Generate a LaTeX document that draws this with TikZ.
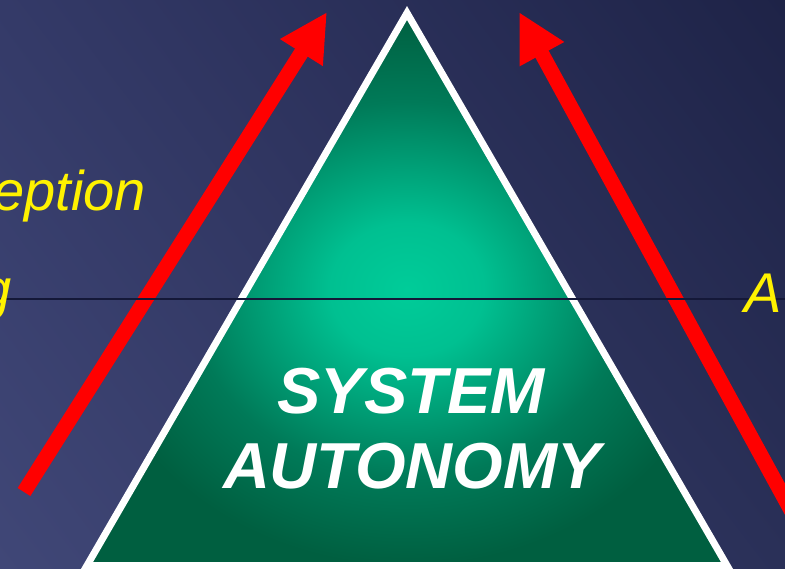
\documentclass[tikz,border=0pt]{standalone}
\usepackage{fontspec}
\setmainfont{Liberation Sans}
\usetikzlibrary{arrows.meta,shadings}
\definecolor{bgUL}{HTML}{343A68}
\definecolor{bgUR}{HTML}{1E2347}
\definecolor{bgLL}{HTML}{404777}
\definecolor{bgLR}{HTML}{2A3058}
\definecolor{gA}{HTML}{00CC99}
\definecolor{gB}{HTML}{00C091}
\definecolor{gC}{HTML}{007A58}
\definecolor{gD}{HTML}{005F40}
\definecolor{rulec}{HTML}{141838}
\pgfdeclareradialshading{tri}{\pgfpoint{0bp}{0bp}}{color(0bp)=(gA); color(6bp)=(gB); color(17bp)=(gC); color(25bp)=(gD); color(50bp)=(gD)}
\tikzset{
  redarrow/.style={draw=red, line width=15pt, -{Triangle[length=48pt,width=47pt]}, red},
  yellowtext/.style={text=yellow, inner sep=0pt, font=\fontsize{56}{60}\selectfont\itshape},
  whitetext/.style={text=white, inner sep=0pt, anchor=base, font=\fontsize{65}{70}\selectfont\bfseries\itshape},
}
\begin{document}
\begin{tikzpicture}[x=1pt,y=-1pt]
\useasboundingbox (0,0) rectangle (785,568);
\clip (0,0) rectangle (785,568);
\shade[upper left=bgUL, upper right=bgUR, lower left=bgLL, lower right=bgLR] (0,0) rectangle (785,568);
% triangle
\shade[shading=tri] (407,13) -- (87,565.5) -- (727,565.5) -- cycle;
\draw[white, line width=7pt, line join=miter] (407,13) -- (87,565.5) -- (727,565.5) -- cycle;
% arrows
\coordinate (la0) at (24,492);
\coordinate (la1) at (327,12);
\coordinate (ra0) at (840,600);
\coordinate (ra1) at (519,12);
\draw[redarrow] (la0) -- (la1);
\draw[redarrow] (ra0) -- (ra1);
% thin horizontal rule
\coordinate (h0) at (0,299);
\coordinate (h1) at (785,299);
\draw[rulec, line width=1.2pt] (h0) -- (h1);
% texts
\node[yellowtext, anchor=base west] (t1) at (-7,210) {eption};
\node[yellowtext, anchor=base west] (t2) at (-20,308) {g};
\node[yellowtext, anchor=base west] (t3) at (744,312) {A};
\node[whitetext] (s1) at (411,413) {SYSTEM};
\node[whitetext] (s2) at (412,488) {AUTONOMY};
\end{tikzpicture}
\end{document}
